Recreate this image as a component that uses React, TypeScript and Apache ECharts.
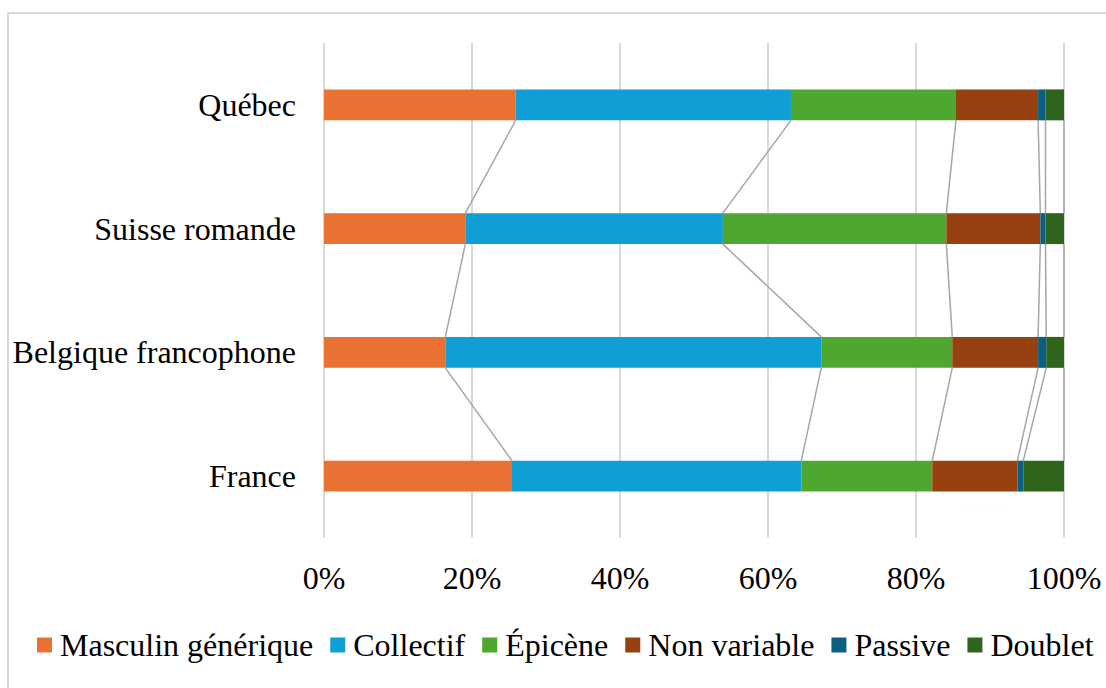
import React, { useEffect, useRef } from "react";
import * as echarts from "echarts";

const categories = ["France", "Belgique francophone", "Suisse romande", "Québec"];
const seriesNames = ["Masculin générique", "Collectif", "Épicène", "Non variable", "Passive", "Doublet"];
const masculin = [25.4, 16.4, 19.1, 25.9];
const collectif = [39.1, 50.8, 34.8, 37.2];
const epicene = [17.7, 17.7, 30.2, 22.3];
const nonVariable = [11.5, 11.6, 12.7, 11.1];
const passive = [0.8, 1.1, 0.7, 1.0];
const doublet = [5.5, 2.4, 2.5, 2.5];
const colors = ["#E97132", "#0F9ED5", "#4EA72E", "#974010", "#0B6082", "#2F641C"];

const FONT = "'Liberation Serif', 'Times New Roman', serif";

export default function App() {
  const ref = useRef<HTMLDivElement>(null);
  useEffect(() => {
    document.body.style.margin = "0";
    if (!ref.current) return;
    const chart = echarts.init(ref.current, undefined, { renderer: "svg" });
    const all = [masculin, collectif, epicene, nonVariable, passive, doublet];
    const cum: number[][] = categories.map((_, ci) => {
      let s = 0;
      return all.map((arr) => (s += arr[ci]));
    });
    const lineData: number[][] = [];
    for (let ci = 0; ci < categories.length - 1; ci++) {
      for (let k = 0; k < all.length; k++) {
        lineData.push([cum[ci][k], cum[ci + 1][k], ci, ci + 1]);
      }
    }
    const barSeries = all.map((arr, i) => ({
      name: seriesNames[i],
      type: "bar",
      stack: "total",
      data: arr,
      barWidth: "25%",
      itemStyle: { color: colors[i] },
      silent: true,
    }));
    chart.setOption({
      animation: false,
      graphic: [
        {
          type: "rect",
          shape: { x: 8, y: 13, width: 1300, height: 1000 },
          style: { fill: "none", stroke: "#d9d9d9", lineWidth: 2 },
          silent: true,
        },
      ],
      grid: { left: 324, top: 43, right: 42, bottom: 150, containLabel: false },
      legend: {
        data: seriesNames,
        left: 37,
        top: 629,
        width: 1069,
        padding: 0,
        icon: "rect",
        itemWidth: 15,
        itemHeight: 15,
        itemGap: 17,
        textStyle: { fontFamily: FONT, fontSize: 32, color: "#000", padding: [0, 0, 0, 3] },
      },
      xAxis: {
        type: "value",
        min: 0,
        max: 100,
        interval: 20,
        axisLine: { show: false },
        axisTick: { show: false },
        splitLine: { lineStyle: { color: "#d9d9d9", width: 2 } },
        axisLabel: {
          formatter: "{value}%",
          fontFamily: FONT,
          fontSize: 32,
          color: "#000",
          margin: 24,
        },
      },
      yAxis: {
        type: "category",
        data: categories,
        axisLine: { show: false },
        axisTick: { show: false },
        axisLabel: { fontFamily: FONT, fontSize: 32, color: "#000", margin: 28 },
      },
      series: [
        ...barSeries,
        {
          type: "custom",
          silent: true,
          encode: { x: [0, 1], y: [2, 3] },
          data: lineData,
          renderItem: (params: any, api: any) => {
            const p1 = api.coord([api.value(0), api.value(2)]);
            const p2 = api.coord([api.value(1), api.value(3)]);
            const band = api.size([0, 1])[1];
            const half = band * 0.125;
            return {
              type: "line",
              shape: { x1: p1[0], y1: p1[1] - half, x2: p2[0], y2: p2[1] + half },
              style: { stroke: "#a6a6a6", lineWidth: 1.5 },
            };
          },
        },
      ],
    });
    return () => chart.dispose();
  }, []);
  return <div ref={ref} style={{ width: 1106, height: 688, overflow: "hidden" }} />;
}
